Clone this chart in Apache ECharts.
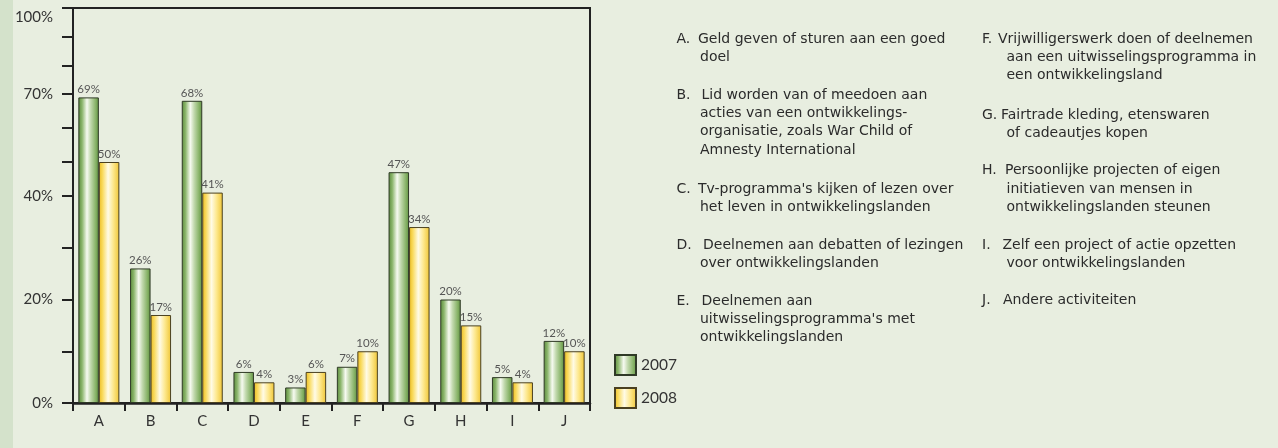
<!DOCTYPE html>
<html>
<head>
<meta charset="utf-8">
<script src="https://cdn.jsdelivr.net/npm/echarts@6/dist/echarts.min.js"></script>
<style>
html,body{margin:0;padding:0;background:#e8eee0;}
#chart{width:1278px;height:448px;}
</style>
</head>
<body>
<div id="chart"></div>
<script>
// ---- data ----
const categories = ['A','B','C','D','E','F','G','H','I','J'];
const seriesNames = ['2007','2008'];
const values2007 = [69, 26, 68, 6, 3, 7, 47, 20, 5, 12];
const values2008 = [50, 17, 41, 4, 6, 10, 34, 15, 4, 10];
const yTickValues = [0,10,20,30,40,50,60,70,80,90,100];
const yLabelValues = [0,20,40,70,100];

const descLetters1 = ['A.','B.','C.','D.','E.'];
const descTexts1 = [
  ['Geld geven of sturen aan een goed','doel'],
  ['Lid worden van of meedoen aan','acties van een ontwikkelings-','organisatie, zoals War Child of','Amnesty International'],
  ["Tv-programma's kijken of lezen over",'het leven in ontwikkelingslanden'],
  ['Deelnemen aan debatten of lezingen','over ontwikkelingslanden'],
  ['Deelnemen aan',"uitwisselingsprogramma's met",'ontwikkelingslanden']
];
const descLetters2 = ['F.','G.','H.','I.','J.'];
const descTexts2 = [
  ['Vrijwilligerswerk doen of deelnemen','aan een uitwisselingsprogramma in','een ontwikkelingsland'],
  ['Fairtrade kleding, etenswaren','of cadeautjes kopen'],
  ['Persoonlijke projecten of eigen','initiatieven van mensen in','ontwikkelingslanden steunen'],
  ['Zelf een project of actie opzetten','voor ontwikkelingslanden'],
  ['Andere activiteiten']
];

// ---- non-linear (piecewise) vertical scale of the original chart ----
const scaleKnots = [[0,0],[40,207],[70,309],[100,395]];
function pos(v){
  for(let i=1;i<scaleKnots.length;i++){
    const a=scaleKnots[i-1], b=scaleKnots[i];
    if(v<=b[0]) return a[1]+(v-a[0])*(b[1]-a[1])/(b[0]-a[0]);
  }
  return scaleKnots[scaleKnots.length-1][1];
}

// ---- layout ----
const FONT = 'Lato';
const DESC_FONT = 'DejaVu Sans';
const DESC_SIZE = 14;
const lineH = 18.4;
const col1 = {letterX:676.5, firstX:[698,701.5,698,703,701.5], contX:700, tops:[39,95,189,245,301]};
const col2 = {letterX:982, firstX:[998,1001,1005,1002.5,1003], contX:1006.5, tops:[39,115,170.7,245,300]};

const greenGrad = {type:'linear',x:0,y:0,x2:1,y2:0,colorStops:[
  {offset:0,color:'#5a8a3c'},{offset:0.18,color:'#8ab56a'},{offset:0.42,color:'#f6faf0'},
  {offset:0.6,color:'#c2d9ae'},{offset:0.85,color:'#86b266'},{offset:1,color:'#5f8f42'}]};
const yellowGrad = {type:'linear',x:0,y:0,x2:1,y2:0,colorStops:[
  {offset:0,color:'#ebbb22'},{offset:0.18,color:'#f9da5c'},{offset:0.45,color:'#fffbe6'},
  {offset:0.7,color:'#fde88e'},{offset:1,color:'#efc534'}]};

function descGraphics(col, letters, texts){
  const out=[];
  letters.forEach((L,i)=>{
    const y=col.tops[i];
    const st = {fontFamily:DESC_FONT,fontSize:DESC_SIZE,fill:'#2b2b2b'};
    out.push({type:'text',x:col.letterX,y:y,style:Object.assign({text:L,verticalAlign:'middle'},st),silent:true});
    out.push({type:'text',x:col.firstX[i],y:y,style:Object.assign({text:texts[i][0],verticalAlign:'middle'},st),silent:true});
    if(texts[i].length>1){
      out.push({type:'text',x:col.contX,y:y+lineH/2,style:Object.assign({text:texts[i].slice(1).join('\n'),lineHeight:lineH,verticalAlign:'top'},st),silent:true});
    }
  });
  return out;
}

const labelPositions = yLabelValues.map(v => v===100 ? pos(v)-9 : pos(v));

const chart = echarts.init(document.getElementById('chart'));
chart.setOption({
  animation:false,
  backgroundColor:'#e8eee0',
  textStyle:{fontFamily:FONT},
  grid:{left:73,right:688,top:8,bottom:45,show:true,borderColor:'#222',borderWidth:2,backgroundColor:'transparent'},
  legend:{
    data:seriesNames, orient:'vertical', left:609, top:349, itemWidth:21, itemHeight:20, itemGap:11,
    icon:'rect', textStyle:{fontSize:15.5,color:'#333',fontFamily:FONT}
  },
  xAxis:{
    type:'category', data:categories,
    axisLine:{lineStyle:{color:'#222',width:2.5}},
    axisTick:{show:true,length:8,lineStyle:{color:'#222',width:2}},
    axisLabel:{fontSize:15,color:'#333',margin:11,fontFamily:FONT}
  },
  yAxis:{
    type:'value', min:0, max:pos(100),
    splitLine:{show:false},
    axisLine:{show:true,lineStyle:{color:'#222',width:2}},
    axisTick:{show:true,length:11,lineStyle:{color:'#222',width:2},customValues:yTickValues.map(pos)},
    axisLabel:{fontSize:15,color:'#333',margin:20,fontFamily:FONT,customValues:labelPositions,
      formatter:function(val){
        let best=0;
        labelPositions.forEach((p,i)=>{ if(Math.abs(p-val)<Math.abs(labelPositions[best]-val)) best=i; });
        return yLabelValues[best]+'%';
      }}
  },
  series:[
    {name:seriesNames[0], type:'bar', barWidth:20.5, barGap:0,
      data:values2007.map(pos),
      itemStyle:{color:greenGrad,borderColor:'#2f3a26',borderWidth:1},
      label:{show:true,position:'top',distance:2,fontSize:11.5,color:'#555',fontFamily:FONT,
        formatter:p=>values2007[p.dataIndex]+'%'}},
    {name:seriesNames[1], type:'bar', barWidth:20.5, barGap:0,
      data:values2008.map(pos),
      itemStyle:{color:yellowGrad,borderColor:'#4a4020',borderWidth:1},
      label:{show:true,position:'top',distance:2,fontSize:11.5,color:'#555',fontFamily:FONT,
        formatter:p=>values2008[p.dataIndex]+'%'}}
  ],
  graphic:[
    {type:'rect',left:0,top:0,shape:{width:13,height:448},style:{fill:'#d4e2cb'},silent:true,z:-10}
  ].concat(descGraphics(col1,descLetters1,descTexts1), descGraphics(col2,descLetters2,descTexts2))
});
</script>
</body>
</html>
